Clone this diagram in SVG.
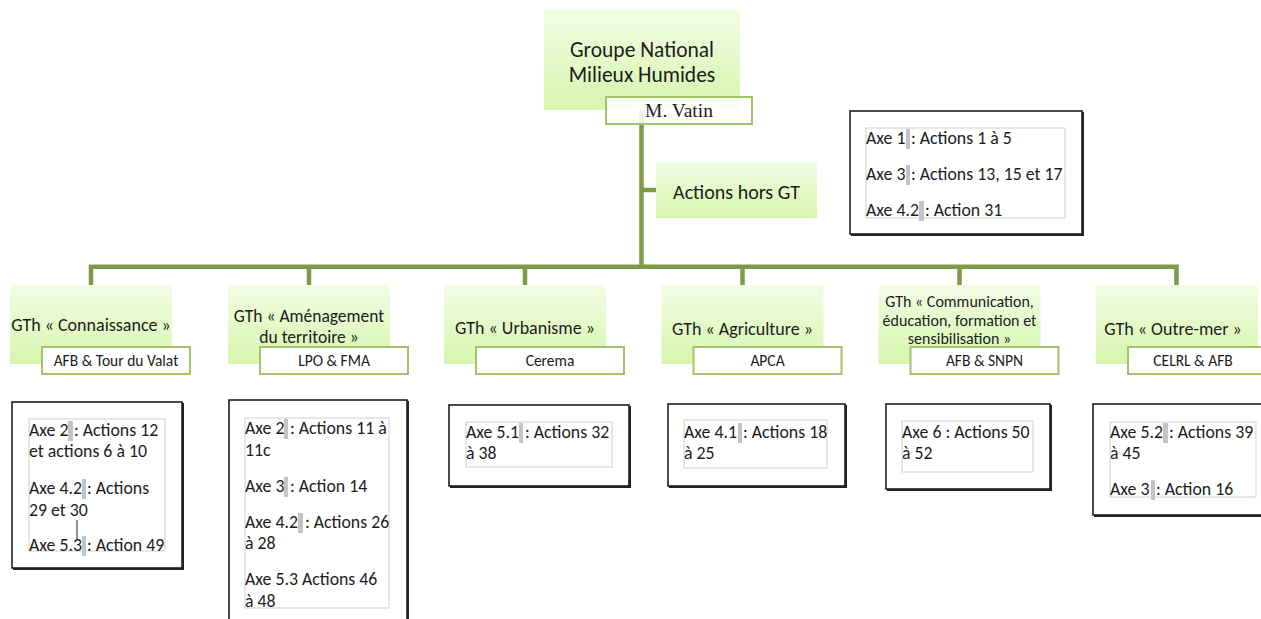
<svg xmlns="http://www.w3.org/2000/svg" width="1261" height="619" viewBox="0 0 1261 619">
<defs>
<linearGradient id="gfill" x1="0" y1="0" x2="0" y2="1">
<stop offset="0" stop-color="#f3fde6"/>
<stop offset="1" stop-color="#d6f5ac"/>
</linearGradient>
<style>
.g{fill:url(#gfill);}
.sub{fill:#fff;stroke:#a3c36a;stroke-width:2;}
.conn{stroke:#7e9a47;stroke-width:4.5;fill:none;}
.t{font-family:Carlito,Lato,"Liberation Sans",sans-serif;fill:#1c1c1c;}
.h{font-size:18px;text-anchor:middle;}
.s{font-size:15.5px;text-anchor:middle;}
.b{font-size:17.8px;}
.outer{fill:#fff;stroke:#111;stroke-width:1.5;}
.shadow{fill:none;stroke:#222;stroke-width:2;}
.inner{fill:none;stroke:#d0d0d0;stroke-width:1;}
.bar{fill:#c4c4c4;}
</style>
</defs>
<rect width="1261" height="619" fill="#fff"/>

<g id="connectors">
<path class="conn" d="M641.5 110 V267"/>
<path class="conn" d="M641.5 190 H656"/>
<path class="conn" d="M91 286 V266.7 H1176.5 V286"/>
<path class="conn" d="M309 266.7 V286 M525 266.7 V286 M742.5 266.7 V286 M959.5 266.7 V286"/>
</g>

<g id="node-gnmh">
<rect class="g" x="544" y="10" width="196" height="100"/>
<text class="t" x="642" y="56.5" font-size="21.5" text-anchor="middle">Groupe National</text>
<text class="t" x="642" y="82" font-size="21.5" text-anchor="middle">Milieux Humides</text>
<rect class="sub" x="606" y="97" width="146" height="27" fill-opacity="0.88"/>
<text x="679" y="117" font-family="'Liberation Serif',serif" font-size="19.5" fill="#1c1c1c" text-anchor="middle">M. Vatin</text>
</g>

<g id="node-hors-gt">
<rect class="g" x="656" y="162" width="161" height="56"/>
<text class="t" x="736.5" y="199" font-size="20" text-anchor="middle">Actions hors GT</text>
</g>

<g id="box-hors-gt">
<rect class="outer" x="850" y="111" width="232" height="123"/>
<path class="shadow" d="M1083 112 V235 H851"/>
<rect class="inner" x="866" y="128" width="199" height="90"/>
<text class="t b" x="866" y="144">Axe 1</text><rect class="bar" x="906" y="129" width="4" height="20"/><text class="t b" x="911" y="144">: Actions 1 à 5</text>
<text class="t b" x="866" y="180">Axe 3</text><rect class="bar" x="906" y="165" width="4" height="20"/><text class="t b" x="911" y="180">: Actions 13, 15 et 17</text>
<text class="t b" x="866" y="216">Axe 4.2</text><rect class="bar" x="919" y="201" width="5" height="20"/><text class="t b" x="925" y="216">: Action 31</text>
</g>

<g id="node-connaissance">
<rect class="g" x="10" y="285" width="162" height="79"/>
<text class="t h" x="91" y="331">GTh « Connaissance »</text>
<rect class="sub" x="42" y="347" width="148" height="27"/>
<text class="t s" x="116" y="366">AFB &amp; Tour du Valat</text>
</g>

<g id="node-amenagement">
<rect class="g" x="228" y="285" width="162" height="79"/>
<text class="t" x="309" y="322" font-size="17.5" text-anchor="middle">GTh « Aménagement</text>
<text class="t" x="309" y="343" font-size="17.5" text-anchor="middle">du territoire »</text>
<rect class="sub" x="260" y="347" width="148" height="27"/>
<text class="t s" x="334" y="366">LPO &amp; FMA</text>
</g>

<g id="node-urbanisme">
<rect class="g" x="444" y="285" width="162" height="79"/>
<text class="t h" x="525" y="334">GTh « Urbanisme »</text>
<rect class="sub" x="476" y="347" width="148" height="27"/>
<text class="t s" x="550" y="366">Cerema</text>
</g>

<g id="node-agriculture">
<rect class="g" x="661.5" y="285" width="162" height="79"/>
<text class="t h" x="742.5" y="335">GTh « Agriculture »</text>
<rect class="sub" x="693.5" y="347" width="148" height="27"/>
<text class="t s" x="767.5" y="366">APCA</text>
</g>

<g id="node-communication">
<rect class="g" x="878.5" y="285" width="162" height="79"/>
<text class="t" x="959.5" y="307" font-size="16" text-anchor="middle">GTh « Communication,</text>
<text class="t" x="959.5" y="326" font-size="16" text-anchor="middle">éducation, formation et</text>
<text class="t" x="959.5" y="344" font-size="16" text-anchor="middle">sensibilisation »</text>
<rect class="sub" x="910.5" y="347" width="148" height="27"/>
<text class="t s" x="984.5" y="366">AFB &amp; SNPN</text>
</g>

<g id="node-outremer">
<rect class="g" x="1096" y="285" width="162" height="79"/>
<text class="t h" x="1173" y="335">GTh « Outre-mer »</text>
<rect class="sub" x="1128" y="347" width="148" height="27"/>
<text class="t s" x="1193" y="366">CELRL &amp; AFB</text>
</g>

<g id="box-connaissance">
<rect class="outer" x="12" y="402" width="170" height="166"/>
<path class="shadow" d="M183 403 V569 H13"/>
<rect class="inner" x="29" y="419" width="136" height="132"/>
<text class="t b" x="29" y="436">Axe 2</text><rect class="bar" x="68" y="421" width="5" height="20"/><text class="t b" x="74" y="436">: Actions 12</text>
<text class="t b" x="29" y="457">et actions 6 à 10</text>
<text class="t b" x="29" y="494">Axe 4.2</text><rect class="bar" x="82" y="479" width="4" height="20"/><text class="t b" x="87" y="494">: Actions</text>
<text class="t b" x="29" y="516">29 et 30</text>
<text class="t b" x="29" y="551">Axe 5.3</text><rect class="bar" x="82" y="536" width="4" height="20"/><text class="t b" x="87" y="551">: Action 49</text>
<line x1="77" y1="520" x2="77" y2="540" stroke="#222" stroke-width="1"/>
</g>

<g id="box-amenagement">
<rect class="outer" x="229" y="400" width="178" height="230"/>
<path class="shadow" d="M408 401 V630"/>
<rect class="inner" x="245" y="418" width="144" height="190"/>
<text class="t b" x="245" y="434">Axe 2</text><rect class="bar" x="284" y="419" width="4" height="20"/><text class="t b" x="290" y="434">: Actions 11 à</text>
<text class="t b" x="245" y="456">11c</text>
<text class="t b" x="245" y="492">Axe 3</text><rect class="bar" x="284" y="477" width="4" height="20"/><text class="t b" x="290" y="492">: Action 14</text>
<text class="t b" x="245" y="528">Axe 4.2</text><rect class="bar" x="298" y="513" width="5" height="20"/><text class="t b" x="305" y="528">: Actions 26</text>
<text class="t b" x="245" y="549">à 28</text>
<text class="t b" x="245" y="585">Axe 5.3 Actions 46</text>
<text class="t b" x="245" y="607">à 48</text>
</g>

<g id="box-urbanisme">
<rect class="outer" x="449" y="405" width="180" height="81"/>
<path class="shadow" d="M630 406 V487 H450"/>
<rect class="inner" x="466" y="422" width="146" height="45"/>
<text class="t b" x="466" y="438">Axe 5.1</text><rect class="bar" x="519" y="423" width="4" height="20"/><text class="t b" x="525" y="438">: Actions 32</text>
<text class="t b" x="466" y="459">à 38</text>
</g>

<g id="box-agriculture">
<rect class="outer" x="668" y="404" width="177" height="82"/>
<path class="shadow" d="M846 405 V487 H669"/>
<rect class="inner" x="684" y="420" width="143" height="48"/>
<text class="t b" x="684" y="438">Axe 4.1</text><rect class="bar" x="738" y="423" width="4" height="20"/><text class="t b" x="743" y="438">: Actions 18</text>
<text class="t b" x="684" y="459">à 25</text>
</g>

<g id="box-communication">
<rect class="outer" x="886" y="404" width="164" height="85"/>
<path class="shadow" d="M1051 405 V490 H887"/>
<rect class="inner" x="902" y="421" width="131" height="51"/>
<text class="t b" x="902" y="438">Axe 6 : Actions 50</text>
<text class="t b" x="902" y="459">à 52</text>
</g>

<g id="box-outremer">
<rect class="outer" x="1093" y="404" width="175" height="111"/>
<path class="shadow" d="M1094 516 H1268"/>
<rect class="inner" x="1110" y="422" width="146" height="75"/>
<text class="t b" x="1110" y="438">Axe 5.2</text><rect class="bar" x="1163" y="423" width="5" height="20"/><text class="t b" x="1169" y="438">: Actions 39</text>
<text class="t b" x="1110" y="459">à 45</text>
<text class="t b" x="1110" y="495">Axe 3</text><rect class="bar" x="1151" y="480" width="4" height="20"/><text class="t b" x="1156" y="495">: Action 16</text>
</g>
</svg>
